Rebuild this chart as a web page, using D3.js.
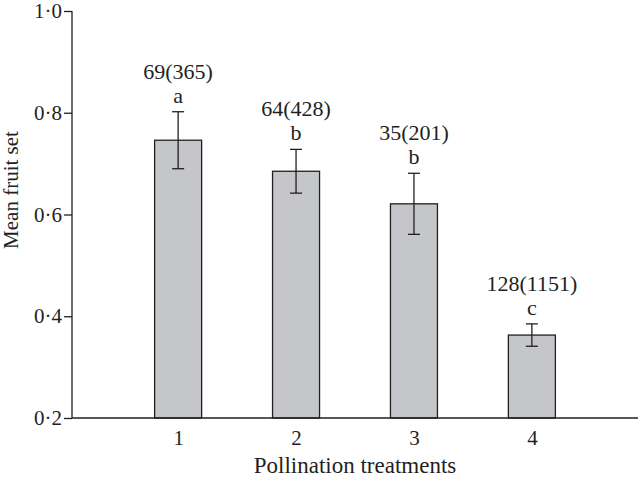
<!DOCTYPE html>
<html>
<head>
<meta charset="utf-8">
<script src="https://cdn.jsdelivr.net/npm/d3@7"></script>
<style>
    body { margin: 0; background: #fff; }
    svg text { font-family: "Liberation Serif", "Times New Roman", serif; fill: #231f20; }
</style>
</head>
<body>
<div id="chart"></div>
<script>
// Mean fruit set by pollination treatment
var treatments = ["1", "2", "3", "4"];
var meanFruitSet = [0.746, 0.685, 0.621, 0.363];
var errorSE = [0.056, 0.043, 0.060, 0.022];
var sampleLabels = ["69(365)", "64(428)", "35(201)", "128(1151)"];
var groupLetters = ["a", "b", "b", "c"];
var yTicks = [0.2, 0.4, 0.6, 0.8, 1.0];

var width = 640, height = 478;
var plotLeft = 72, plotRight = 638, plotTop = 11, plotBottom = 418;

var svg = d3.select("#chart")
    .append("svg")
    .attr("width", width)
    .attr("height", height);

var x = d3.scalePoint()
    .domain(treatments)
    .range([plotLeft, plotRight])
    .padding(0.9);

var y = d3.scaleLinear()
    .domain([0.2, 1.0])
    .range([plotBottom, plotTop]);

var barWidth = 47;
var capWidth = 12;
var ink = "#231f20";

// Bars
svg.selectAll(".bar")
    .data(treatments)
    .enter()
    .append("rect")
    .attr("class", "bar")
    .attr("x", function(d) { return x(d) - barWidth / 2; })
    .attr("y", function(d, i) { return y(meanFruitSet[i]); })
    .attr("width", barWidth)
    .attr("height", function(d, i) { return plotBottom - y(meanFruitSet[i]); })
    .attr("fill", "#c5c6ca")
    .attr("stroke", ink)
    .attr("stroke-width", 1.3);

// Error bars
var err = svg.selectAll(".err")
    .data(treatments)
    .enter()
    .append("g")
    .attr("class", "err")
    .attr("stroke", ink)
    .attr("stroke-width", 1.3);

err.append("line")
    .attr("x1", function(d) { return x(d); })
    .attr("x2", function(d) { return x(d); })
    .attr("y1", function(d, i) { return y(meanFruitSet[i] + errorSE[i]); })
    .attr("y2", function(d, i) { return y(meanFruitSet[i] - errorSE[i]); });

err.append("line")
    .attr("x1", function(d) { return x(d) - capWidth / 2; })
    .attr("x2", function(d) { return x(d) + capWidth / 2; })
    .attr("y1", function(d, i) { return y(meanFruitSet[i] + errorSE[i]); })
    .attr("y2", function(d, i) { return y(meanFruitSet[i] + errorSE[i]); });

err.append("line")
    .attr("x1", function(d) { return x(d) - capWidth / 2; })
    .attr("x2", function(d) { return x(d) + capWidth / 2; })
    .attr("y1", function(d, i) { return y(meanFruitSet[i] - errorSE[i]); })
    .attr("y2", function(d, i) { return y(meanFruitSet[i] - errorSE[i]); });

// Letters and sample sizes above bars
svg.selectAll(".letter")
    .data(treatments)
    .enter()
    .append("text")
    .attr("class", "letter")
    .attr("x", function(d) { return x(d); })
    .attr("y", function(d, i) { return y(meanFruitSet[i] + errorSE[i]) - 9; })
    .attr("text-anchor", "middle")
    .attr("font-size", "22px")
    .text(function(d, i) { return groupLetters[i]; });

svg.selectAll(".count")
    .data(treatments)
    .enter()
    .append("text")
    .attr("class", "count")
    .attr("x", function(d) { return x(d); })
    .attr("y", function(d, i) { return y(meanFruitSet[i] + errorSE[i]) - 33; })
    .attr("text-anchor", "middle")
    .attr("font-size", "22px")
    .text(function(d, i) { return sampleLabels[i]; });

// Y axis
var yAxis = d3.axisLeft(y)
    .tickValues(yTicks)
    .tickSize(8)
    .tickPadding(2)
    .tickFormat(function(d) { return d3.format(".1f")(d).replace(".", "·"); });

var gy = svg.append("g")
    .attr("transform", "translate(" + plotLeft + ",0)")
    .call(yAxis);

gy.select(".domain").remove();
gy.selectAll(".tick line").attr("stroke", ink).attr("stroke-width", 1.3);
gy.selectAll(".tick text")
    .attr("font-size", "21px")
    .attr("font-family", "Liberation Serif, serif")
    .attr("fill", ink);

svg.append("line")
    .attr("x1", plotLeft).attr("x2", plotLeft)
    .attr("y1", plotTop).attr("y2", plotBottom)
    .attr("stroke", ink)
    .attr("stroke-width", 1.3);

// X axis
var xAxis = d3.axisBottom(x)
    .tickSize(0)
    .tickPadding(12);

var gx = svg.append("g")
    .attr("transform", "translate(0," + plotBottom + ")")
    .call(xAxis);

gx.select(".domain").remove();
gx.selectAll(".tick text")
    .attr("font-size", "21px")
    .attr("font-family", "Liberation Serif, serif")
    .attr("fill", ink);

svg.append("line")
    .attr("x1", plotLeft).attr("x2", plotRight)
    .attr("y1", plotBottom).attr("y2", plotBottom)
    .attr("stroke", ink)
    .attr("stroke-width", 1.3);

// Axis titles
svg.append("text")
    .attr("x", 355)
    .attr("y", 473)
    .attr("text-anchor", "middle")
    .attr("font-size", "23px")
    .text("Pollination treatments");

svg.append("text")
    .attr("transform", "translate(18,190) rotate(-90)")
    .attr("text-anchor", "middle")
    .attr("font-size", "21px")
    .text("Mean fruit set");
</script>
</body>
</html>
